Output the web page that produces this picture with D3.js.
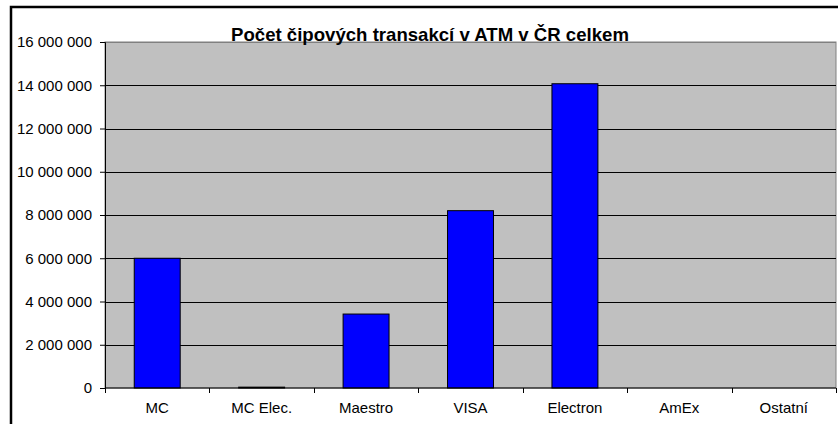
<!DOCTYPE html>
<html>
<head>
<meta charset="utf-8">
<script src="https://cdn.jsdelivr.net/npm/d3@7"></script>
<style>
  body { margin: 0; background: #fff; }
  svg { display: block; font-family: "Liberation Sans", Arial, sans-serif; }
</style>
</head>
<body>
<div id="chart"></div>
<script>
// data
var categories = ["MC", "MC Elec.", "Maestro", "VISA", "Electron", "AmEx", "Ostatní"];
var values = [6000000, 40000, 3420000, 8200000, 14070000, 0, 0];
var yTicks = [0, 2000000, 4000000, 6000000, 8000000, 10000000, 12000000, 14000000, 16000000];
var title = "Počet čipových transakcí v ATM v ČR celkem";

var svgWidth = 838, svgHeight = 424;
var margin = { top: 42, right: 2, bottom: 36, left: 105 };
var chartWidth = svgWidth - margin.left - margin.right;
var chartHeight = svgHeight - margin.top - margin.bottom;

var svg = d3.select("#chart").append("svg")
    .attr("width", svgWidth)
    .attr("height", svgHeight);

// outer frame (clipped on right/bottom like the original)
svg.append("rect")
    .attr("x", 11).attr("y", 7)
    .attr("width", 860).attr("height", 460)
    .attr("fill", "none")
    .attr("stroke", "#000")
    .attr("stroke-width", 2.5);

var g = svg.append("g")
    .attr("transform", `translate(${margin.left}, ${margin.top})`);

var x = d3.scaleBand()
    .domain(categories)
    .range([0, chartWidth])
    .paddingInner(0.56)
    .paddingOuter(0.28);

var xBand = d3.scaleBand().domain(categories).range([0, chartWidth]);

var y = d3.scaleLinear()
    .domain([0, 16000000])
    .range([chartHeight, 0]);

// plot background
g.append("rect")
    .attr("width", chartWidth)
    .attr("height", chartHeight)
    .attr("fill", "#c0c0c0")
    .attr("stroke", "#808080")
    .attr("stroke-width", 1);

// gridlines
g.append("g")
    .selectAll("line")
    .data(yTicks.filter(d => d > 0))
    .enter().append("line")
    .attr("x1", 0).attr("x2", chartWidth)
    .attr("y1", d => Math.round(y(d)) + 0.5)
    .attr("y2", d => Math.round(y(d)) + 0.5)
    .attr("stroke", d => d === 16000000 ? "#808080" : "#000")
    .attr("stroke-width", 1);

// bars
g.append("g")
    .selectAll("rect")
    .data(values)
    .enter().append("rect")
    .attr("x", (d, i) => x(categories[i]))
    .attr("y", d => y(d))
    .attr("width", x.bandwidth())
    .attr("height", d => chartHeight - y(d))
    .attr("fill", "#0000ff")
    .attr("stroke", "#000")
    .attr("stroke-width", 1)
    .attr("display", d => d > 0 ? null : "none");

var fmt = d => d3.format(",")(d).replace(/,/g, " ");

// y axis
var yAxis = g.append("g")
    .call(d3.axisLeft(y).tickValues(yTicks).tickSize(5).tickPadding(8).tickFormat(fmt));
yAxis.select(".domain").attr("stroke", "#000");
yAxis.selectAll("text").attr("font-size", 15).attr("fill", "#000")
    .attr("font-family", "Liberation Sans, Arial, sans-serif");

// x axis: ticks at category boundaries
var xAxis = g.append("g")
    .attr("transform", `translate(0, ${chartHeight})`)
    .call(d3.axisBottom(xBand).tickSize(0).tickPadding(14));
xAxis.select(".domain").attr("stroke", "#000").attr("d", `M0.5,0H${chartWidth}`);
xAxis.selectAll("text").attr("font-size", 15).attr("fill", "#000")
    .attr("font-family", "Liberation Sans, Arial, sans-serif");

g.append("g")
    .selectAll("line")
    .data(categories.concat([null]))
    .enter().append("line")
    .attr("x1", (d, i) => Math.round(i * xBand.step()) + 0.5)
    .attr("x2", (d, i) => Math.round(i * xBand.step()) + 0.5)
    .attr("y1", chartHeight)
    .attr("y2", chartHeight + 5)
    .attr("stroke", "#000");

// title
svg.append("text")
    .attr("x", 430)
    .attr("y", 41)
    .attr("text-anchor", "middle")
    .attr("font-size", 18.6)
    .attr("font-weight", "bold")
    .text(title);
</script>
</body>
</html>
